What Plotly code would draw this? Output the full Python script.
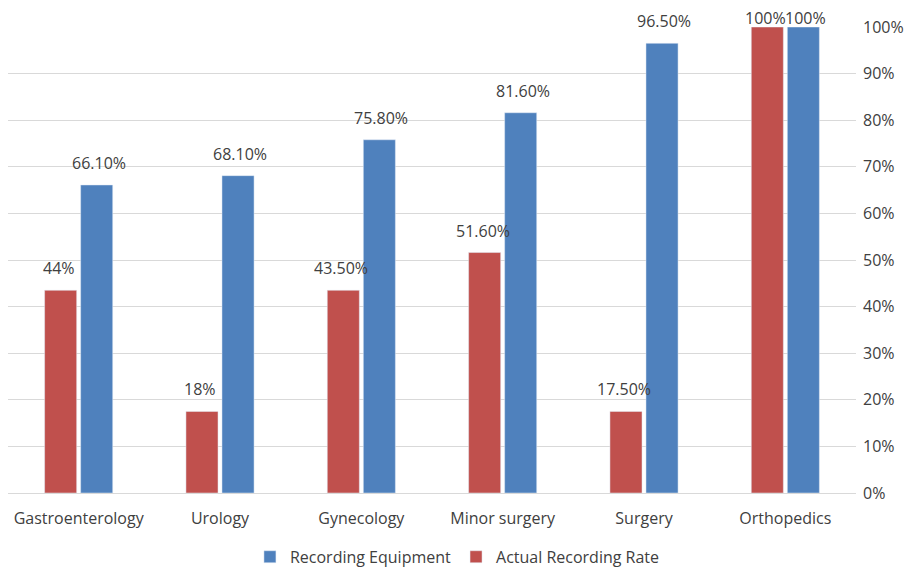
import plotly.graph_objects as go

categories = ["Gastroenterology", "Urology", "Gynecology", "Minor surgery", "Surgery", "Orthopedics"]
actual_rate = [43.5, 17.5, 43.5, 51.6, 17.5, 100]
actual_labels = ["44%", "18%", "43.50%", "51.60%", "17.50%", "100%"]
equipment = [66.1, 68.1, 75.8, 81.6, 96.5, 100]
equipment_labels = ["66.10%", "68.10%", "75.80%", "81.60%", "96.50%", "100%"]
tick_vals = [0, 10, 20, 30, 40, 50, 60, 70, 80, 90, 100]
tick_text = [f"{v}%" for v in tick_vals]

FONT = "Open Sans, sans-serif"
TXT = "#404040"
SIZE = 16

fig = go.Figure()
fig.add_trace(go.Bar(
    x=categories, y=actual_rate, name="Actual Recording Rate",
    marker=dict(color="#C0504D"),
))
fig.add_trace(go.Bar(
    x=categories, y=equipment, name="Recording Equipment",
    marker=dict(color="#4F81BD"),
))

# data labels above bars (red on the left of each group, blue on the right)
PX_PER_UNIT = 466 / 100.0
for vals, labels, dx in [(actual_rate, actual_labels, -20), (equipment, equipment_labels, 20)]:
    for c, v, t in zip(categories, vals, labels):
        shift = min(22, 9 + (100 - v) * PX_PER_UNIT)
        fig.add_annotation(x=c, y=v, xref="x", yref="y", text=t, showarrow=False,
                           xshift=dx, yshift=shift, yanchor="middle", xanchor="center",
                           font=dict(size=SIZE, color=TXT, family=FONT))

fig.update_layout(
    width=911, height=561,
    margin=dict(l=0, r=63, t=19, b=76, autoexpand=False),
    paper_bgcolor="white", plot_bgcolor="white",
    barmode="group", bargap=0.49, bargroupgap=0.11,
    font=dict(family=FONT, size=SIZE, color=TXT),
    showlegend=True,
    legend=dict(orientation="h", x=0.53, xanchor="center", y=-0.137, yanchor="middle",
                traceorder="reversed", font=dict(size=SIZE, color=TXT, family=FONT)),
    xaxis=dict(showgrid=False, showline=False, ticks="", ticklabelstandoff=14,
               tickfont=dict(size=SIZE, color=TXT)),
    yaxis=dict(side="right", range=[0, 100], tickvals=tick_vals, ticktext=tick_text,
               showgrid=True, gridcolor="#D9D9D9", gridwidth=1,
               zeroline=True, zerolinecolor="#D9D9D9", zerolinewidth=1,
               showline=False, ticks="", ticklabelstandoff=6,
               tickfont=dict(size=SIZE, color=TXT)),
)

fig.write_html("out.html")
